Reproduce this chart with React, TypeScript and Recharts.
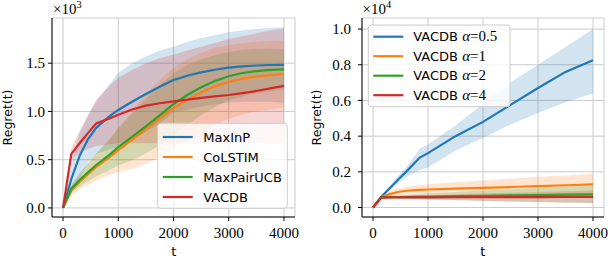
import React from 'react';
import { ComposedChart, Line, Area, XAxis, YAxis, CartesianGrid } from 'recharts';

// ---------- Left panel data (Regret, raw units; axis shows ×10^3) ----------
const tLeft = [0, 150, 300, 450, 600, 850, 1000, 1250, 1500, 1750, 2000, 2250, 2500, 2750, 3000, 3250, 3500, 3750, 4000];

const maxInP = [0, 300, 540, 710, 830, 955, 1015, 1100, 1180, 1255, 1325, 1370, 1405, 1432, 1453, 1467, 1476, 1481, 1483];
const maxInPLo = [0, 150, 300, 470, 560, 610, 630, 700, 790, 875, 985, 1020, 1050, 1075, 1090, 1100, 1100, 1100, 1090];
const maxInPHi = [0, 450, 780, 950, 1100, 1290, 1400, 1500, 1570, 1630, 1670, 1720, 1760, 1790, 1820, 1840, 1855, 1865, 1875];

const colstim = [0, 180, 270, 350, 425, 530, 600, 705, 815, 925, 1035, 1120, 1195, 1260, 1305, 1340, 1362, 1376, 1385];
const colstimLo = [0, 130, 190, 240, 285, 340, 370, 405, 455, 525, 615, 700, 785, 860, 925, 970, 1002, 1021, 1035];
const colstimHi = [0, 230, 350, 460, 565, 720, 830, 1005, 1175, 1325, 1455, 1540, 1605, 1660, 1685, 1710, 1722, 1731, 1735];

const maxPair = [0, 200, 290, 370, 445, 555, 630, 735, 845, 960, 1075, 1170, 1250, 1315, 1365, 1398, 1418, 1430, 1435];
const maxPairLo = [0, 160, 220, 280, 325, 395, 440, 495, 565, 650, 755, 860, 960, 1045, 1115, 1158, 1188, 1210, 1225];
const maxPairHi = [0, 240, 360, 460, 565, 715, 820, 975, 1125, 1270, 1395, 1480, 1540, 1585, 1615, 1638, 1648, 1650, 1645];

const vacdb = [0, 560, 670, 775, 875, 930, 965, 1020, 1060, 1085, 1105, 1122, 1140, 1155, 1170, 1190, 1212, 1238, 1265];
const vacdbLo = [0, 500, 570, 610, 640, 660, 670, 670, 670, 670, 670, 670, 670, 670, 670, 670, 670, 670, 670];
const vacdbHi = [0, 620, 800, 960, 1120, 1270, 1350, 1430, 1500, 1550, 1590, 1630, 1670, 1710, 1750, 1780, 1810, 1840, 1860];

// ---------- Right panel data (Regret, raw units; axis shows ×10^4) ----------
const tRight = [0, 150, 300, 450, 600, 850, 1000, 1500, 2000, 2500, 3000, 3500, 4000];

const a05 = [0, 600, 1070, 1540, 2000, 2800, 3050, 4000, 4800, 5750, 6700, 7600, 8250];
const a05Lo = [0, 550, 950, 1350, 1700, 2100, 2250, 3200, 3900, 4650, 5300, 5900, 6400];
const a05Hi = [0, 650, 1200, 1750, 2250, 3300, 3550, 4600, 5800, 7000, 8000, 9000, 10000];

const a1 = [0, 580, 750, 870, 940, 990, 1010, 1060, 1100, 1150, 1200, 1250, 1300];
const a1Lo = [0, 510, 600, 690, 730, 730, 720, 700, 680, 680, 680, 690, 700];
const a1Hi = [0, 650, 900, 1050, 1150, 1250, 1300, 1420, 1520, 1620, 1720, 1800, 1880];

const a2 = [0, 570, 580, 590, 600, 610, 620, 640, 660, 680, 700, 720, 740];
const a2Lo = [0, 550, 520, 500, 490, 460, 450, 410, 370, 340, 310, 280, 250];
const a2Hi = [0, 590, 640, 680, 710, 760, 790, 870, 950, 1020, 1090, 1160, 1230];

const a4 = [0, 560, 565, 568, 570, 572, 573, 577, 580, 584, 588, 594, 600];
const a4Lo = [0, 545, 525, 508, 490, 462, 453, 417, 380, 344, 308, 274, 250];
const a4Hi = [0, 575, 605, 628, 650, 682, 693, 737, 780, 824, 868, 914, 950];

const xTicks = [0, 1000, 2000, 3000, 4000];
const yTicksLeft = [0, 500, 1000, 1500];
const yTicksRight = [0, 2000, 4000, 6000, 8000, 10000];

const leftNames = ['MaxInP', 'CoLSTIM', 'MaxPairUCB', 'VACDB'];
const rightAlphas = ['0.5', '1', '2', '4'];
const COLORS = ['#1f77b4', '#ff7f0e', '#2ca02c', '#d62728'];

const leftSeries = [
  { key: 'maxInP', v: maxInP, lo: maxInPLo, hi: maxInPHi },
  { key: 'colstim', v: colstim, lo: colstimLo, hi: colstimHi },
  { key: 'maxPair', v: maxPair, lo: maxPairLo, hi: maxPairHi },
  { key: 'vacdb', v: vacdb, lo: vacdbLo, hi: vacdbHi },
];
const rightSeries = [
  { key: 'a05', v: a05, lo: a05Lo, hi: a05Hi },
  { key: 'a1', v: a1, lo: a1Lo, hi: a1Hi },
  { key: 'a2', v: a2, lo: a2Lo, hi: a2Hi },
  { key: 'a4', v: a4, lo: a4Lo, hi: a4Hi },
];

function buildRows(ts: number[], series: any[]) {
  return ts.map((t, i) => {
    const row: any = { t };
    series.forEach((s) => {
      row[s.key] = s.v[i];
      row[s.key + 'Band'] = [s.lo[i], s.hi[i]];
    });
    return row;
  });
}

const leftRows = buildRows(tLeft, leftSeries);
const rightRows = buildRows(tRight, rightSeries);

const SERIF = '"Liberation Serif", "DejaVu Serif", serif';
const SANS = '"DejaVu Sans", sans-serif';

const tickStyle = { fill: '#000', fontFamily: SERIF, fontSize: 15 };

function Panel(props: {
  rows: any[];
  series: any[];
  yDomain: [number, number];
  yTicks: number[];
  yScale: number;
  yWidth: number;
  yTickMargin: number;
  width: number;
  left: number;
  marginRight: number;
}) {
  const { rows, series, yDomain, yTicks, yScale, yWidth, yTickMargin, width, left, marginRight } = props;
  return (
    <div style={{ position: 'absolute', left, top: 0 }}>
      <ComposedChart
        width={width}
        height={258}
        data={rows}
        margin={{ top: 18, right: marginRight, bottom: 0, left: 0 }}
        style={{ overflow: 'visible' }}
      >
        <CartesianGrid stroke="#cbcbcb" strokeWidth={1} />
        <XAxis
          dataKey="t"
          type="number"
          domain={[-200, 4200]}
          ticks={xTicks}
          allowDataOverflow
          height={41}
          tickSize={4}
          tickMargin={6}
          tick={tickStyle}
          tickLine={{ stroke: '#000' }}
          axisLine={{ stroke: '#000' }}
          interval={0}
        />
        <XAxis
          xAxisId="top"
          orientation="top"
          type="number"
          domain={[-200, 4200]}
          height={0}
          tick={false}
          tickLine={false}
          axisLine={{ stroke: '#000' }}
        />
        <YAxis
          type="number"
          domain={yDomain}
          ticks={yTicks}
          allowDataOverflow
          width={yWidth}
          tickSize={4}
          tickMargin={yTickMargin}
          tick={tickStyle}
          tickFormatter={(v: number) => (v / yScale).toFixed(1)}
          tickLine={{ stroke: '#000' }}
          axisLine={{ stroke: '#000' }}
          interval={0}
        />
        <YAxis
          yAxisId="right"
          orientation="right"
          type="number"
          domain={yDomain}
          width={0}
          tick={false}
          tickLine={false}
          axisLine={{ stroke: '#000' }}
        />
        {series.map((s, i) => (
          <Area
            key={s.key + 'Band'}
            dataKey={s.key + 'Band'}
            type="linear"
            stroke="none"
            fill={COLORS[i]}
            fillOpacity={0.2}
            isAnimationActive={false}
            activeDot={false}
            dot={false}
          />
        ))}
        {series.map((s, i) => (
          <Line
            key={s.key}
            dataKey={s.key}
            type="linear"
            stroke={COLORS[i]}
            strokeWidth={2.2}
            dot={false}
            activeDot={false}
            isAnimationActive={false}
          />
        ))}
      </ComposedChart>
    </div>
  );
}

function Overlay() {
  return (
    <svg
      width={608}
      height={258}
      style={{ position: 'absolute', left: 0, top: 0, pointerEvents: 'none' }}
    >
      {/* axis labels */}
      <text x={11.5} y={117.5} transform="rotate(-90 11.5 117.5)" textAnchor="middle" fontFamily={SANS} fontSize={12.5} fill="#000">Regret(t)</text>
      <text x={320.5} y={117.5} transform="rotate(-90 320.5 117.5)" textAnchor="middle" fontFamily={SANS} fontSize={12.5} fill="#000">Regret(t)</text>
      <text x={173.7} y={256} textAnchor="middle" fontFamily={SANS} fontSize={13} fill="#000">t</text>
      <text x={482.7} y={256} textAnchor="middle" fontFamily={SANS} fontSize={13} fill="#000">t</text>
      {/* exponent labels */}
      <text x={53} y={14} fontFamily={SERIF} fontSize={15} fill="#000">×10<tspan dy={-6} fontSize={10.5}>3</tspan></text>
      <text x={362.5} y={14} fontFamily={SERIF} fontSize={15} fill="#000">×10<tspan dy={-6} fontSize={10.5}>4</tspan></text>

      {/* left legend */}
      <rect x={157.7} y={123.3} width={129.6} height={85} rx={3} fill="#fff" fillOpacity={0.8} stroke="#cccccc" strokeWidth={1} />
      {leftNames.map((n, i) => (
        <g key={n}>
          <line x1={162.7} x2={192.7} y1={137 + 20 * i} y2={137 + 20 * i} stroke={COLORS[i]} strokeWidth={2.2} />
          <text x={203.3} y={141.7 + 20 * i} fontFamily={SANS} fontSize={13} fill="#000">{n}</text>
        </g>
      ))}

      {/* right legend */}
      <rect x={368.3} y={25} width={141.7} height={81.7} rx={3} fill="#fff" fillOpacity={0.8} stroke="#cccccc" strokeWidth={1} />
      {rightAlphas.map((a, i) => (
        <g key={a}>
          <line x1={373.3} x2={403.3} y1={36.7 + 19.5 * i} y2={36.7 + 19.5 * i} stroke={COLORS[i]} strokeWidth={2.2} />
          <text x={413.3} y={41.4 + 19.5 * i} fontFamily={SANS} fontSize={13} fill="#000">
            VACDB{' '}
            <tspan fontFamily={SERIF} fontStyle="italic" fontSize={15}>α</tspan>
            <tspan fontFamily={SERIF} fontSize={15}>={a}</tspan>
          </text>
        </g>
      ))}
    </svg>
  );
}

export default function App() {
  return (
    <div style={{ position: 'absolute', left: 0, top: 0, width: 608, height: 258, background: '#fff' }}>
      <Panel
        rows={leftRows}
        series={leftSeries}
        yDomain={[-94, 1968]}
        yTicks={yTicksLeft}
        yScale={1000}
        yWidth={52}
        yTickMargin={3}
        width={300}
        left={0}
        marginRight={5}
      />
      <Panel
        rows={rightRows}
        series={rightSeries}
        yDomain={[-530, 10620]}
        yTicks={yTicksRight}
        yScale={10000}
        yWidth={62}
        yTickMargin={7}
        width={308}
        left={300}
        marginRight={4}
      />
      <Overlay />
    </div>
  );
}
